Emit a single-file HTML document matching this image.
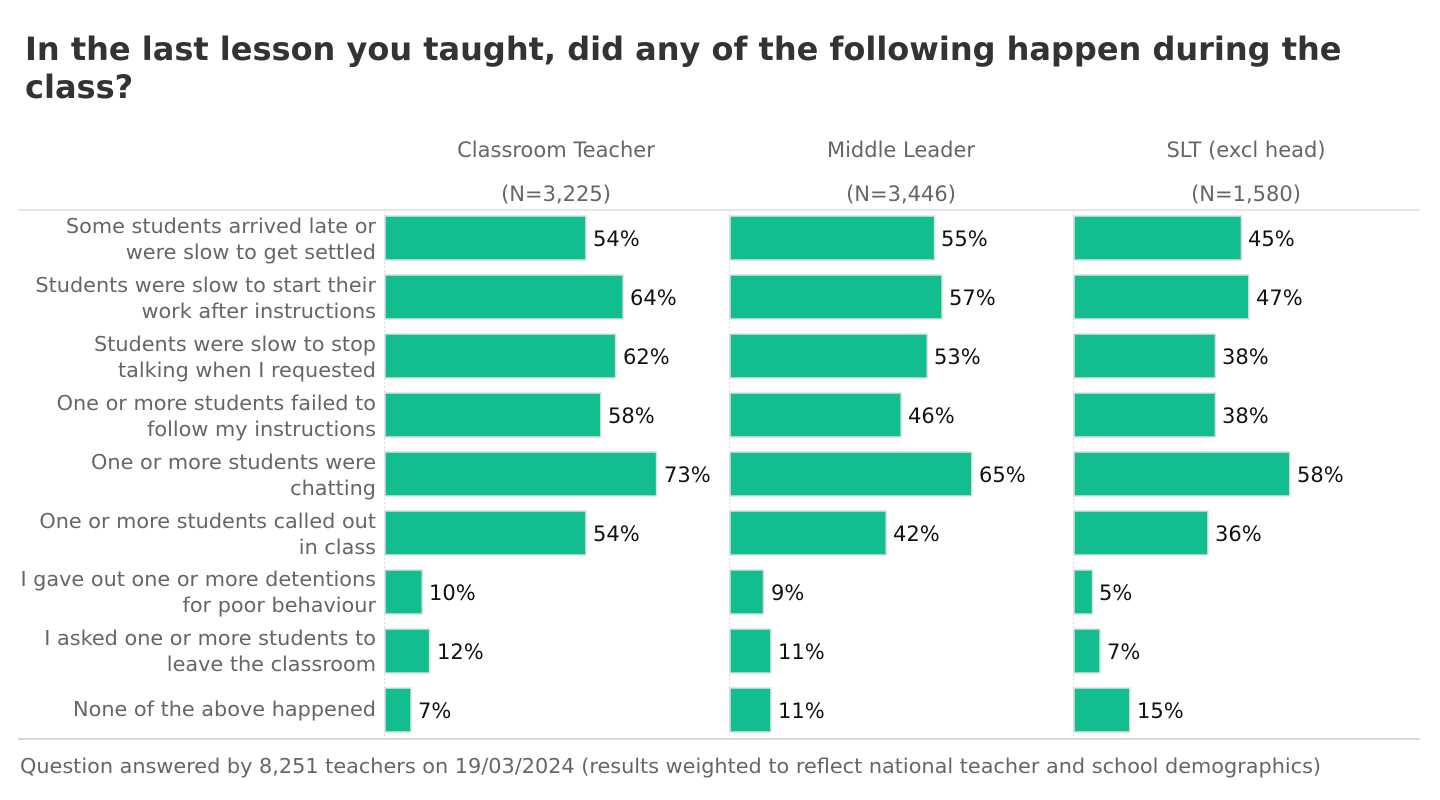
<!DOCTYPE html>
<html><head><meta charset="utf-8"><style>
body{margin:0;background:#fff;}
svg{display:block;font-family:"DejaVu Sans","Liberation Sans",sans-serif;}
</style></head><body>
<svg width="1440" height="800" xmlns="http://www.w3.org/2000/svg">
<text x="25" y="60" font-size="32" font-weight="bold" fill="#333">In the last lesson you taught, did any of the following happen during the</text>
<text x="25" y="98" font-size="32" font-weight="bold" fill="#333">class?</text>
<g font-size="21" fill="#666" text-anchor="middle">
<text x="556" y="157">Classroom Teacher</text><text x="556" y="201">(N=3,225)</text>
<text x="901" y="157">Middle Leader</text><text x="901" y="201">(N=3,446)</text>
<text x="1246" y="157">SLT (excl head)</text><text x="1246" y="201">(N=1,580)</text>
</g>
<line x1="18" y1="210" x2="1420" y2="210" stroke="#ccc" stroke-width="1"/>
<line x1="18" y1="739" x2="1420" y2="739" stroke="#ccc" stroke-width="1.5"/>
<g stroke="#ddd" stroke-dasharray="2,2"><line x1="384.5" y1="210" x2="384.5" y2="739"/><line x1="729.5" y1="210" x2="729.5" y2="739"/><line x1="1073.5" y1="210" x2="1073.5" y2="739"/></g>
<g font-size="20.8" fill="#666" text-anchor="end">
<text x="376" y="233">Some students arrived late or</text><text x="376" y="259">were slow to get settled</text>
<text x="376" y="292">Students were slow to start their</text><text x="376" y="318">work after instructions</text>
<text x="376" y="351">Students were slow to stop</text><text x="376" y="377">talking when I requested</text>
<text x="376" y="410">One or more students failed to</text><text x="376" y="436">follow my instructions</text>
<text x="376" y="469">One or more students were</text><text x="376" y="495">chatting</text>
<text x="376" y="528">One or more students called out</text><text x="376" y="554">in class</text>
<text x="376" y="586">I gave out one or more detentions</text><text x="376" y="612">for poor behaviour</text>
<text x="376" y="645">I asked one or more students to</text><text x="376" y="671">leave the classroom</text>
<text x="376" y="716">None of the above happened</text>
</g>
<g fill="#12bd8f" stroke="#ddd" stroke-width="1.5">
<rect x="385" y="216" width="200.9" height="44"/><rect x="385" y="275" width="238.1" height="44"/><rect x="385" y="334" width="230.6" height="44"/><rect x="385" y="393" width="215.8" height="44"/><rect x="385" y="452" width="271.6" height="44"/><rect x="385" y="511" width="200.9" height="44"/><rect x="385" y="570" width="37.2" height="44"/><rect x="385" y="629" width="44.6" height="44"/><rect x="385" y="688" width="26" height="44"/>
<rect x="730" y="216" width="204.6" height="44"/><rect x="730" y="275" width="212" height="44"/><rect x="730" y="334" width="197.2" height="44"/><rect x="730" y="393" width="171.1" height="44"/><rect x="730" y="452" width="241.8" height="44"/><rect x="730" y="511" width="156.2" height="44"/><rect x="730" y="570" width="33.5" height="44"/><rect x="730" y="629" width="40.9" height="44"/><rect x="730" y="688" width="40.9" height="44"/>
<rect x="1074" y="216" width="167.4" height="44"/><rect x="1074" y="275" width="174.8" height="44"/><rect x="1074" y="334" width="141.4" height="44"/><rect x="1074" y="393" width="141.4" height="44"/><rect x="1074" y="452" width="215.8" height="44"/><rect x="1074" y="511" width="133.9" height="44"/><rect x="1074" y="570" width="18.6" height="44"/><rect x="1074" y="629" width="26" height="44"/><rect x="1074" y="688" width="55.8" height="44"/>
</g>
<g font-size="21" fill="#111">
<text x="593" y="246">54%</text><text x="630" y="305">64%</text><text x="623" y="364">62%</text><text x="608" y="423">58%</text><text x="664" y="482">73%</text><text x="593" y="541">54%</text><text x="429" y="600">10%</text><text x="437" y="659">12%</text><text x="418" y="718">7%</text>
<text x="941" y="246">55%</text><text x="949" y="305">57%</text><text x="934" y="364">53%</text><text x="908" y="423">46%</text><text x="979" y="482">65%</text><text x="893" y="541">42%</text><text x="771" y="600">9%</text><text x="778" y="659">11%</text><text x="778" y="718">11%</text>
<text x="1248" y="246">45%</text><text x="1256" y="305">47%</text><text x="1222" y="364">38%</text><text x="1222" y="423">38%</text><text x="1297" y="482">58%</text><text x="1215" y="541">36%</text><text x="1099" y="600">5%</text><text x="1107" y="659">7%</text><text x="1137" y="718">15%</text>
</g>
<text x="20" y="773" font-size="20.8" fill="#666">Question answered by 8,251 teachers on 19/03/2024 (results weighted to reflect national teacher and school demographics)</text>
</svg>
</body></html>
